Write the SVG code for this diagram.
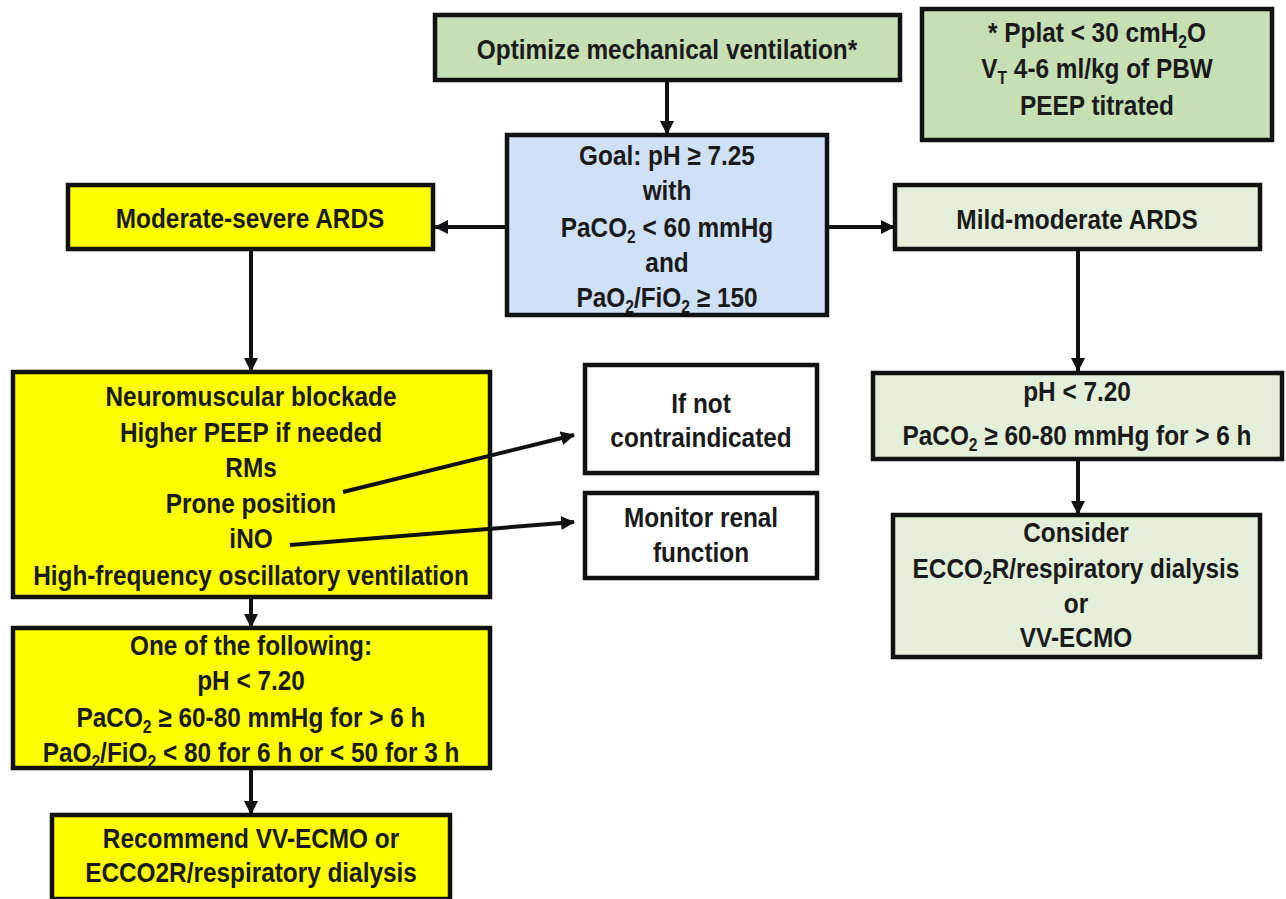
<svg xmlns="http://www.w3.org/2000/svg" width="1286" height="899" viewBox="0 0 1286 899">
<defs>
<style>
.box{stroke:#111;stroke-width:4.5}
.g{fill:#c6dfb5}
.lg{fill:#e3efd9}
.b{fill:#cfe1f7}
.y{fill:#ffff00}
.w{fill:#ffffff}
text{font-family:"Liberation Sans",Arial,sans-serif;font-weight:bold;font-size:28px;fill:#1a1a1a;text-anchor:middle}
.sub{font-size:18px}
.c line{stroke:#111;stroke-width:4;marker-end:url(#ah)}
</style>
<marker id="ah" markerUnits="userSpaceOnUse" markerWidth="14" markerHeight="14" refX="13" refY="7" orient="auto">
<path d="M0,0 L14,7 L0,14 z" fill="#111"/>
</marker>
</defs>
<rect width="1286" height="899" fill="#ffffff"/>

<g id="optimize">
<rect class="box g" x="435" y="15" width="465" height="65"/>
<text transform="translate(667 0) scale(0.87 1)" y="59">Optimize mechanical ventilation*</text>
</g>

<g id="note">
<rect class="box g" x="922" y="9" width="350" height="131"/>
<text transform="translate(1097 0) scale(0.87 1)" y="42">* Pplat &lt; 30 cmH<tspan class="sub" dy="6">2</tspan><tspan dy="-6">O</tspan></text>
<text transform="translate(1097 0) scale(0.87 1)" y="78">V<tspan class="sub" dy="6">T</tspan><tspan dy="-6"> 4-6 ml/kg of PBW</tspan></text>
<text transform="translate(1097 0) scale(0.87 1)" y="115">PEEP titrated</text>
</g>

<g id="goal">
<rect class="box b" x="507" y="135" width="320" height="180"/>
<text transform="translate(667 0) scale(0.87 1)" y="165">Goal: pH ≥ 7.25</text>
<text transform="translate(667 0) scale(0.87 1)" y="200">with</text>
<text transform="translate(667 0) scale(0.87 1)" y="237">PaCO<tspan class="sub" dy="6">2</tspan><tspan dy="-6"> &lt; 60 mmHg</tspan></text>
<text transform="translate(667 0) scale(0.87 1)" y="272">and</text>
<text transform="translate(667 0) scale(0.87 1)" y="307">PaO<tspan class="sub" dy="6">2</tspan><tspan dy="-6">/FiO</tspan><tspan class="sub" dy="6">2</tspan><tspan dy="-6"> ≥ 150</tspan></text>
</g>

<g id="mod-severe">
<rect class="box y" x="68" y="185" width="365" height="64"/>
<text transform="translate(250 0) scale(0.87 1)" y="228">Moderate-severe ARDS</text>
</g>

<g id="mild-moderate">
<rect class="box lg" x="895" y="185" width="365" height="64"/>
<text transform="translate(1077 0) scale(0.87 1)" y="229">Mild-moderate ARDS</text>
</g>

<g id="interventions">
<rect class="box y" x="13" y="372" width="477" height="225"/>
<text transform="translate(251 0) scale(0.87 1)" y="406">Neuromuscular blockade</text>
<text transform="translate(251 0) scale(0.87 1)" y="442">Higher PEEP if needed</text>
<text transform="translate(251 0) scale(0.87 1)" y="477">RMs</text>
<text transform="translate(251 0) scale(0.87 1)" y="513">Prone position</text>
<text transform="translate(251 0) scale(0.87 1)" y="548">iNO</text>
<text transform="translate(251 0) scale(0.87 1)" y="585">High-frequency oscillatory ventilation</text>
</g>

<g id="if-not">
<rect class="box w" x="585" y="365" width="232" height="108"/>
<text transform="translate(701 0) scale(0.87 1)" y="413">If not</text>
<text transform="translate(701 0) scale(0.87 1)" y="447">contraindicated</text>
</g>

<g id="monitor">
<rect class="box w" x="585" y="493" width="232" height="85"/>
<text transform="translate(701 0) scale(0.87 1)" y="527">Monitor renal</text>
<text transform="translate(701 0) scale(0.87 1)" y="562">function</text>
</g>

<g id="ph-right">
<rect class="box lg" x="873" y="373" width="409" height="86"/>
<text transform="translate(1077 0) scale(0.87 1)" y="401">pH &lt; 7.20</text>
<text transform="translate(1077 0) scale(0.87 1)" y="445">PaCO<tspan class="sub" dy="6">2</tspan><tspan dy="-6"> ≥ 60-80 mmHg for &gt; 6 h</tspan></text>
</g>

<g id="consider">
<rect class="box lg" x="893" y="515" width="367" height="142"/>
<text transform="translate(1076 0) scale(0.87 1)" y="542">Consider</text>
<text transform="translate(1076 0) scale(0.87 1)" y="578">ECCO<tspan class="sub" dy="6">2</tspan><tspan dy="-6">R/respiratory dialysis</tspan></text>
<text transform="translate(1076 0) scale(0.87 1)" y="613">or</text>
<text transform="translate(1076 0) scale(0.87 1)" y="647">VV-ECMO</text>
</g>

<g id="one-of">
<rect class="box y" x="13" y="628" width="477" height="140"/>
<text transform="translate(251 0) scale(0.87 1)" y="655">One of the following:</text>
<text transform="translate(251 0) scale(0.87 1)" y="690">pH &lt; 7.20</text>
<text transform="translate(251 0) scale(0.87 1)" y="727">PaCO<tspan class="sub" dy="6">2</tspan><tspan dy="-6"> ≥ 60-80 mmHg for &gt; 6 h</tspan></text>
<text transform="translate(251 0) scale(0.87 1)" y="762">PaO<tspan class="sub" dy="6">2</tspan><tspan dy="-6">/FiO</tspan><tspan class="sub" dy="6">2</tspan><tspan dy="-6"> &lt; 80 for 6 h or &lt; 50 for 3 h</tspan></text>
</g>

<g id="recommend">
<rect class="box y" x="52" y="815" width="398" height="84"/>
<text transform="translate(251 0) scale(0.87 1)" y="848">Recommend VV-ECMO or</text>
<text transform="translate(251 0) scale(0.87 1)" y="882">ECCO2R/respiratory dialysis</text>
</g>

<g class="c" id="connectors">
<line x1="667" y1="82" x2="667" y2="134"/>
<line x1="505" y1="227" x2="435" y2="227"/>
<line x1="829" y1="227" x2="894" y2="227"/>
<line x1="251" y1="251" x2="251" y2="371"/>
<line x1="1078" y1="251" x2="1078" y2="371"/>
<line x1="1078" y1="461" x2="1078" y2="514"/>
<line x1="251" y1="599" x2="251" y2="627"/>
<line x1="251" y1="770" x2="251" y2="814"/>
<line x1="343" y1="492" x2="574" y2="435"/>
<line x1="290" y1="545" x2="574" y2="522"/>
</g>
</svg>
